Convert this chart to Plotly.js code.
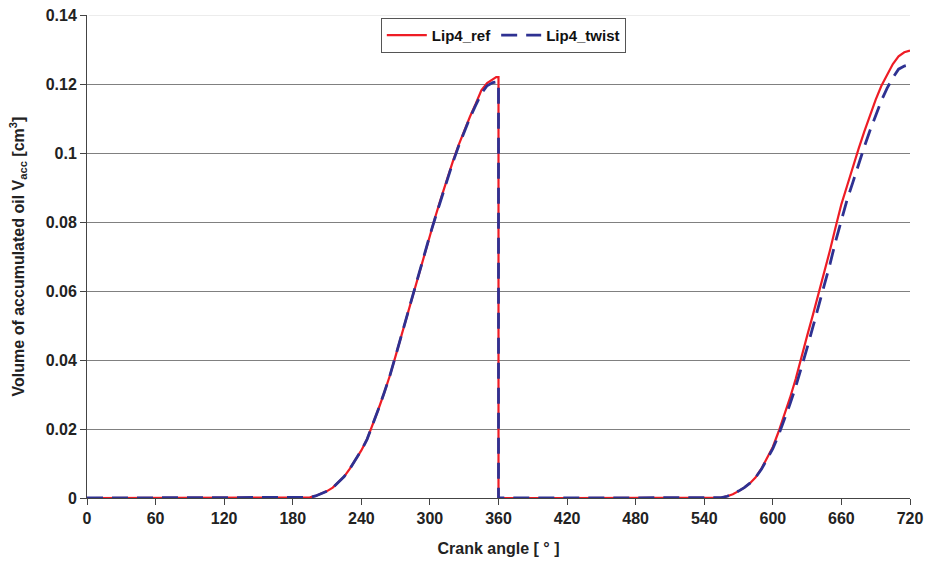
<!DOCTYPE html>
<html>
<head>
<meta charset="utf-8">
<script src="https://cdn.plot.ly/plotly-3.0.1.min.js"></script>
<style>html,body{margin:0;padding:0;background:#fff;}#chart{width:930px;height:567px;}</style>
</head>
<body>
<div id="chart"></div>
<script>
// Crank angle [deg]
const angle = [0, 60, 120, 180, 190, 195, 200, 205, 210, 215, 220, 225, 230, 235, 240, 245, 250, 255, 260, 265, 270, 275, 280, 285, 290, 295, 300, 305, 310, 315, 320, 325, 330, 335, 340, 345, 350, 355, 358, 360, 360,
  420, 480, 540, 550, 555, 560, 565, 570, 575, 580, 585, 590, 595, 600, 605, 610, 615, 620, 625, 630, 635, 640, 645, 650, 655, 660, 665, 670, 675, 680, 685, 690, 695, 700, 705, 710, 715, 720];

// Lip4_ref volume [cm^3]
const lip4Ref = [0, 0, 0, 0, 0, 0.0002, 0.0006, 0.0012, 0.002, 0.003, 0.0045, 0.0062, 0.0085, 0.011, 0.0138, 0.017, 0.0212, 0.0258, 0.0305, 0.0355, 0.0412, 0.047, 0.0532, 0.0592, 0.065, 0.0705, 0.0762, 0.0818, 0.0872, 0.0925, 0.0975, 0.1022, 0.1065, 0.1105, 0.1142, 0.1182, 0.1203, 0.1215, 0.122, 0.122, 0,
  0, 0, 0, 0, 0.0001, 0.0005, 0.0011, 0.002, 0.003, 0.0043, 0.006, 0.0085, 0.0115, 0.0148, 0.0192, 0.024, 0.029, 0.0345, 0.041, 0.047, 0.053, 0.059, 0.0652, 0.0718, 0.0786, 0.0852, 0.0905, 0.096, 0.1012, 0.1062, 0.111, 0.1155, 0.1195, 0.1228, 0.1258, 0.128, 0.1292, 0.1297];

// Lip4_twist volume [cm^3]
const lip4Twist = [0, 0, 0, 0, 0, 0.0002, 0.0006, 0.0012, 0.002, 0.003, 0.0045, 0.0062, 0.0085, 0.011, 0.0138, 0.017, 0.0212, 0.0258, 0.0305, 0.0355, 0.0412, 0.047, 0.0532, 0.0592, 0.065, 0.0705, 0.0762, 0.0816, 0.087, 0.0922, 0.0972, 0.1019, 0.1062, 0.1102, 0.1138, 0.1172, 0.1195, 0.1204, 0.1206, 0.1206, 0,
  0, 0, 0, 0, 0.0001, 0.0005, 0.0011, 0.002, 0.003, 0.0043, 0.006, 0.0083, 0.0112, 0.0143, 0.0182, 0.0226, 0.0272, 0.0322, 0.0375, 0.0435, 0.0495, 0.0555, 0.0615, 0.0678, 0.0745, 0.0808, 0.0865, 0.0915, 0.0968, 0.1018, 0.1065, 0.111, 0.1152, 0.1188, 0.1218, 0.1243, 0.1252, 0.1256];

const xTicks = [0, 60, 120, 180, 240, 300, 360, 420, 480, 540, 600, 660, 720];
const yTicks = [0, 0.02, 0.04, 0.06, 0.08, 0.1, 0.12, 0.14];
const yTickText = ['0', '0.02', '0.04', '0.06', '0.08', '0.1', '0.12', '0.14'];

const font = 'Liberation Sans, Arial, sans-serif';

const traces = [
  {x: angle, y: lip4Ref, name: 'Lip4_ref', type: 'scatter', mode: 'lines',
   line: {color: '#ee1c25', width: 2.2}},
  {x: angle, y: lip4Twist, name: 'Lip4_twist', type: 'scatter', mode: 'lines',
   line: {color: '#2e3192', width: 2.8, dash: '16px,9px'}}
];

const layout = {
  width: 930, height: 567,
  margin: {l: 87, r: 20, t: 15, b: 69},
  paper_bgcolor: '#fff', plot_bgcolor: '#fff',
  font: {family: font, size: 16, color: '#222'},
  showlegend: true,
  legend: {
    orientation: 'h', x: 0.357, y: 0.994, xanchor: 'left', yanchor: 'top',
    bgcolor: '#fff', bordercolor: '#555', borderwidth: 1,
    font: {family: font, size: 15, color: '#111', weight: 'bold'},
    itemwidth: 40, tracegroupgap: 0
  },
  xaxis: {
    range: [0, 720], tickvals: xTicks, ticktext: xTicks.map(String),
    showgrid: false, zeroline: false,
    showline: true, linecolor: '#444', linewidth: 1,
    ticks: 'outside', ticklen: 6, tickcolor: '#444',
    tickfont: {family: font, size: 16, color: '#222', weight: 'bold'},
    title: {text: 'Crank angle [ ° ]', font: {family: font, size: 16, color: '#222', weight: 'bold'}, standoff: 16}
  },
  yaxis: {
    range: [0, 0.14], tickvals: yTicks, ticktext: yTickText,
    showgrid: true, gridcolor: '#808080', gridwidth: 1, zeroline: false,
    showline: true, linecolor: '#444', linewidth: 1,
    ticks: 'outside', ticklen: 6, tickcolor: '#444',
    tickfont: {family: font, size: 16, color: '#222', weight: 'bold'},
    title: {text: 'Volume of accumulated oil V<sub>acc</sub> [cm<sup>3</sup>]', font: {family: font, size: 16, color: '#222', weight: 'bold'}, standoff: 17}
  },
  shapes: [
    {type: 'line', xref: 'paper', yref: 'y', x0: 0.002, x1: 1, y0: 0.14, y1: 0.14,
     line: {color: '#ececec', width: 2}, layer: 'above'}
  ]
};

Plotly.newPlot('chart', traces, layout, {displayModeBar: false, staticPlot: true});
</script>
</body>
</html>
